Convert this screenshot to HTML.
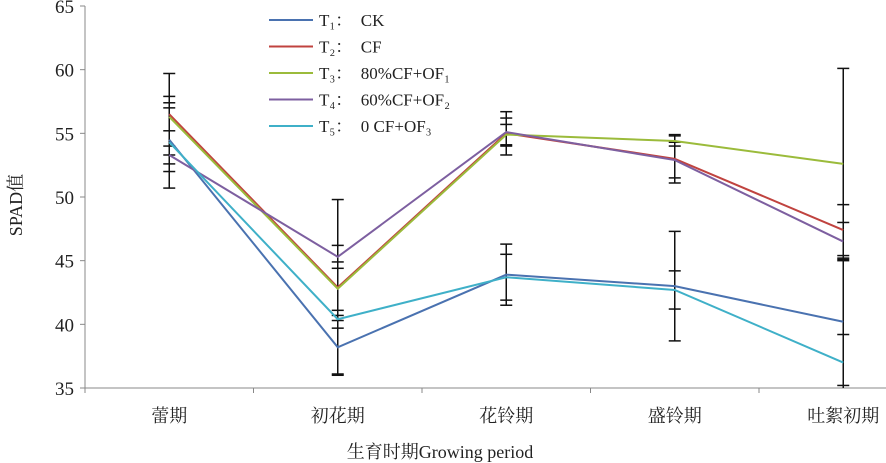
<!DOCTYPE html>
<html><head><meta charset="utf-8"><style>
body{margin:0;background:#fff}
svg{display:block;font-family:"Liberation Serif","Noto Serif CJK SC",serif}
</style></head><body>
<svg id="chart" width="886" height="463"></svg>
<script>
const categories=["蕾期","初花期","花铃期","盛铃期","吐絮初期"];
const seriesNames=["T₁：  CK","T₂：  CF","T₃：  80%CF+OF₁","T₄：  60%CF+OF₂","T₅：  0 CF+OF₃"];
const t1Values=[54.5,38.2,43.9,43.0,40.2];
const t2Values=[56.5,42.9,55.0,53.0,47.4];
const t3Values=[56.3,42.8,54.9,54.4,52.6];
const t4Values=[53.3,45.3,55.1,52.9,46.5];
const t5Values=[54.3,40.4,43.7,42.7,37.0];
const t1Err=[2.5,2.1,2.4,4.3,5.0];
const t2Err=[3.2,6.9,1.7,1.9,2.0];
const t3Err=[1.1,2.1,0.8,0.4,7.5];
const t4Err=[0.7,0.9,1.1,1.4,1.5];
const t5Err=[3.6,0.7,1.8,1.5,2.2];
const yTicks=[35,40,45,50,55,60,65];
const colors=["#4a72b0","#c0433f","#9bbb3b","#7d5fa0","#3fb0c8"];
const NS="http://www.w3.org/2000/svg";
const svg=document.getElementById("chart");
const X0=85,STEP=168.5,Y0=388,YT=6;
const xS=i=>X0+STEP*(i+0.5);
const yS=v=>Y0-(v-35)/30*(Y0-YT);
function mk(t,a,p){const e=document.createElementNS(NS,t);for(const k in a)e.setAttribute(k,a[k]);(p||svg).appendChild(e);return e;}
let ax=mk("line",{x1:X0,y1:YT,x2:X0,y2:Y0,stroke:"#888","stroke-width":1});


ax=mk("line",{x1:X0,y1:Y0,x2:886,y2:Y0,stroke:"#888","stroke-width":1});


yTicks.forEach(v=>{
 const tk=mk("line",{x1:X0-5,y1:yS(v),x2:X0,y2:yS(v),stroke:"#888"});
 
 
 const t=mk("text",{x:74,y:yS(v)+7,"text-anchor":"end","font-size":"19",fill:"#222"});
 t.textContent=v;
 
 
});
categories.forEach((c,i)=>{
 const tk=mk("line",{x1:X0+STEP*i,y1:Y0,x2:X0+STEP*i,y2:Y0+5,stroke:"#888"});
 
 
 const t=mk("text",{x:xS(i),y:422,"text-anchor":"middle","font-size":"18",fill:"#222"});
 t.textContent=c;
 
 
});
const series=[t1Values,t2Values,t3Values,t4Values,t5Values];
const errs=[t1Err,t2Err,t3Err,t4Err,t5Err];
series.forEach((s,k)=>{s.forEach((v,i)=>{
 const g=mk("g",{stroke:"#111","stroke-width":1.5});
 
 
 const hi=yS(v+errs[k][i]),lo=Math.min(yS(v-errs[k][i]),Y0);
 const x=xS(i);
 mk("line",{x1:x,y1:hi,x2:x,y2:lo},g);
 mk("line",{x1:x-6,y1:hi,x2:x+6,y2:hi},g);
 if(lo<Y0)mk("line",{x1:x-6,y1:lo,x2:x+6,y2:lo},g);
});});
series.forEach((s,k)=>{
 const p=mk("polyline",{points:s.map((v,i)=>xS(i)+","+yS(v)).join(" "),fill:"none",stroke:colors[k],"stroke-width":2});
 
 
});
seriesNames.forEach((n,k)=>{
 const y=20+k*26.5;
 const g=mk("g",{});
 
 
 mk("line",{x1:269,y1:y,x2:313,y2:y,stroke:colors[k],"stroke-width":2},g);
 const t=mk("text",{x:319,y:y+6,"font-size":"17",fill:"#222","xml:space":"preserve"},g);
 t.style.whiteSpace="pre";
 t.textContent=n;
});
let t=mk("text",{x:0,y:0,"font-size":"18",fill:"#222","text-anchor":"middle",transform:"translate(22,205) rotate(-90)"});
t.textContent="SPAD值";


t=mk("text",{x:440,y:458,"font-size":"18",fill:"#222","text-anchor":"middle"});
t.textContent="生育时期Growing period";


</script>
</body></html>
